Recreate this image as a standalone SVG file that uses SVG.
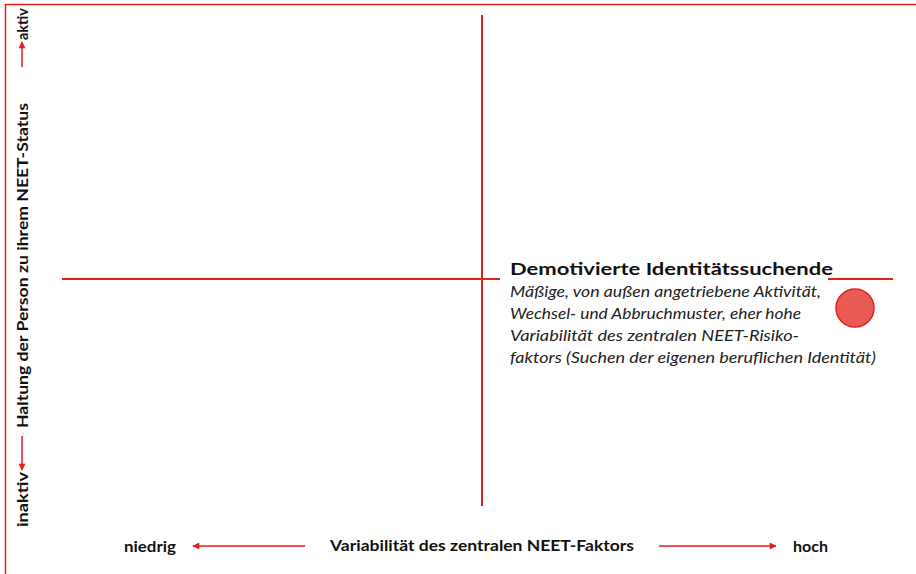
<svg xmlns="http://www.w3.org/2000/svg" width="916" height="574" viewBox="0 0 916 574">
<style>
.red{stroke:#e3201c;fill:none}
.lbl{font-family:Lato,"Liberation Sans",sans-serif;font-weight:bold;fill:#111;font-size:15px}
.title{font-family:Lato,"Liberation Sans",sans-serif;font-weight:bold;fill:#111;font-size:17px}
.desc{font-family:Lato,"Liberation Sans",sans-serif;font-style:italic;fill:#222;font-size:15.5px}
</style>
<defs>
<marker id="ah" viewBox="0 0 10 10" refX="9" refY="5" markerWidth="8" markerHeight="7" orient="auto" markerUnits="userSpaceOnUse">
<path d="M0,0 L10,5 L0,10 z" fill="#e3201c"/>
</marker>
</defs>
<rect width="916" height="574" fill="#fff"/>
<g id="frame">
<line class="red" x1="5" y1="4.5" x2="916" y2="4.5" stroke-width="1.5"/>
<line class="red" x1="5.5" y1="4" x2="5.5" y2="574" stroke-width="1.5"/>
</g>
<g id="connectors">
<line class="red" x1="62" y1="279" x2="500" y2="279" stroke-width="2"/>
<line class="red" x1="828" y1="279" x2="893" y2="279" stroke-width="2"/>
<line class="red" x1="482" y1="15" x2="482" y2="506" stroke-width="2"/>
<line class="red" x1="305" y1="546" x2="193" y2="546" stroke-width="1.5" marker-end="url(#ah)"/>
<line class="red" x1="659" y1="546" x2="776" y2="546" stroke-width="1.5" marker-end="url(#ah)"/>
<line class="red" x1="22" y1="67" x2="22" y2="42" stroke-width="1.5" marker-end="url(#ah)"/>
<line class="red" x1="22" y1="436" x2="22" y2="470" stroke-width="1.5" marker-end="url(#ah)"/>
</g>
<g id="axis-x">
<text class="lbl" x="124" y="552" font-size="14" textLength="52" lengthAdjust="spacingAndGlyphs">niedrig</text>
<text class="lbl" x="330" y="551" textLength="304" lengthAdjust="spacingAndGlyphs">Variabilität des zentralen NEET-Faktors</text>
<text class="lbl" x="793" y="552" font-size="14" textLength="35" lengthAdjust="spacingAndGlyphs">hoch</text>
</g>
<g id="axis-y">
<text class="lbl" transform="translate(28,527) rotate(-90)" font-size="14" textLength="55" lengthAdjust="spacingAndGlyphs">inaktiv</text>
<text class="lbl" transform="translate(28,428) rotate(-90)" textLength="325" lengthAdjust="spacingAndGlyphs">Haltung der Person zu ihrem NEET-Status</text>
<text class="lbl" transform="translate(28,40) rotate(-90)" font-size="14" textLength="32" lengthAdjust="spacingAndGlyphs">aktiv</text>
</g>
<g id="node-demotivierte">
<circle cx="855" cy="308" r="19" fill="#e85a55" stroke="#e0211f" stroke-width="1.5"/>
<text class="title" x="510" y="275" textLength="323" lengthAdjust="spacingAndGlyphs">Demotivierte Identitätssuchende</text>
<text class="desc" x="510" y="297" textLength="311" lengthAdjust="spacingAndGlyphs">Mäßige, von außen angetriebene Aktivität,</text>
<text class="desc" x="510" y="319" textLength="291" lengthAdjust="spacingAndGlyphs">Wechsel- und Abbruchmuster, eher hohe</text>
<text class="desc" x="510" y="341" textLength="289" lengthAdjust="spacingAndGlyphs">Variabilität des zentralen NEET-Risiko-</text>
<text class="desc" x="510" y="363" textLength="366" lengthAdjust="spacingAndGlyphs">faktors (Suchen der eigenen beruflichen Identität)</text>
</g>
</svg>
